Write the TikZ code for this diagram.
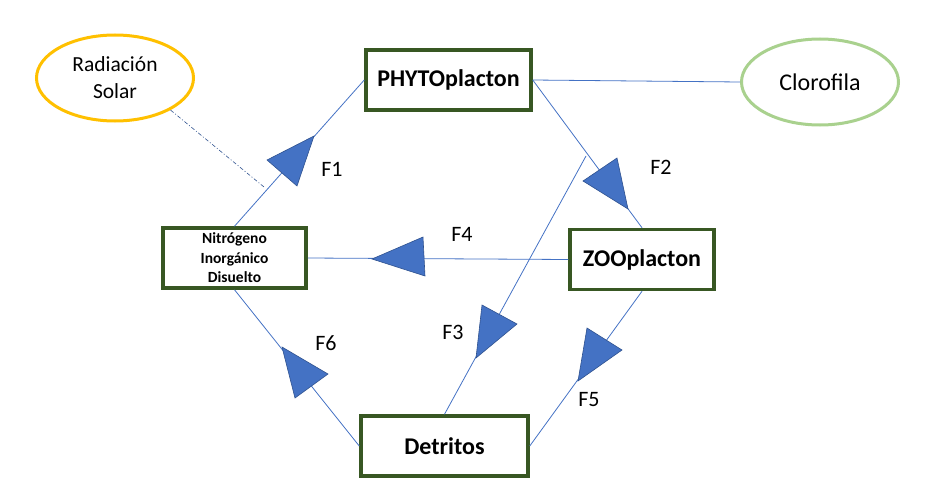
\documentclass[tikz,border=0pt]{standalone}
\usepackage{fontspec}
\setmainfont{Carlito}
\usetikzlibrary{shapes.geometric}

\definecolor{azul}{HTML}{4472C4}
\definecolor{azulborde}{HTML}{2F528F}
\definecolor{verde}{HTML}{385723}
\definecolor{naranja}{HTML}{FFC000}
\definecolor{verdeclaro}{HTML}{A9D18E}

\tikzset{
	caja/.style={draw=verde, line width=3.5pt, fill=white, align=center, inner sep=0pt,
		font=\bfseries\fontsize{24}{28}\selectfont},
	ovalo/.style={ellipse, line width=3pt, fill=white, align=center, inner sep=0pt,
		minimum width=157pt, minimum height=86pt},
	enlace/.style={draw=azul, line width=0.8pt},
	flecha/.style={fill=azul, draw=azulborde, line width=0.6pt},
	etiqueta/.style={font=\fontsize{22}{26}\selectfont}
}

\begin{document}
\begin{tikzpicture}[x=1pt, y=-1pt]

\useasboundingbox (0,0) rectangle (937,503);

%% NODES
% Ellipses
\node[ovalo, draw=naranja, font=\fontsize{21.5}{27}\selectfont] (sol) at (115,78) {Radiación\\Solar};
\node[ovalo, draw=verdeclaro, font=\fontsize{24}{28}\selectfont] (cloro) at (820,82) {Clorofila};

% Boxes
\node[caja, minimum width=165pt, minimum height=60pt] (phyto) at (448.5,80) {PHYTOplacton};
\node[caja, minimum width=144pt, minimum height=60pt] (zoo) at (642,259.5) {ZOOplacton};
\node[caja, minimum width=167pt, minimum height=60pt] (det) at (444.5,446) {Detritos};
\node[caja, minimum width=143pt, minimum height=60pt,
	font=\bfseries\fontsize{15.5}{19.5}\selectfont] (nid) at (234.5,258) {Nitrógeno\\Inorgánico\\Disuelto};

% Free ends
\coordinate (finF3) at (586,156);
\coordinate (finSol) at (264,187);

%% CONNECTORS
\draw[enlace] (nid.north) -- (phyto.west);
\draw[enlace] (phyto.east) -- (zoo.north);
\draw[enlace] (phyto.east) -- (cloro.west);
\draw[enlace] (zoo.west) -- (nid.east);
\draw[enlace] (zoo.south) -- (det.east);
\draw[enlace] (det.west) -- (nid.south);
\draw[enlace] (det.north) -- (finF3);
\draw[azulborde, line width=0.6pt, dash pattern=on 4pt off 2pt on 1pt off 2pt] (sol.-30) -- (finSol);

%% TRIANGLES
\foreach \ax/\ay/\bx/\by/\cx/\cy in {267/160/314/136/297/186, 583/181/617/158/628/209,
	372/259/423/237/425/276, 482/305/517/324/476/358,
	587/328/622/350/578/381, 282/347/328/374/295/398}
{
	\filldraw[flecha] (\ax,\ay) -- (\bx,\by) -- (\cx,\cy) -- cycle;
}

% Labels
\foreach \nombre/\px/\py in {F1/332/169, F2/661/167, F3/453/332, F4/462/234, F5/589/400, F6/326/343}
{
	\node[etiqueta] (\nombre) at (\px,\py) {\nombre};
}

\end{tikzpicture}
\end{document}
